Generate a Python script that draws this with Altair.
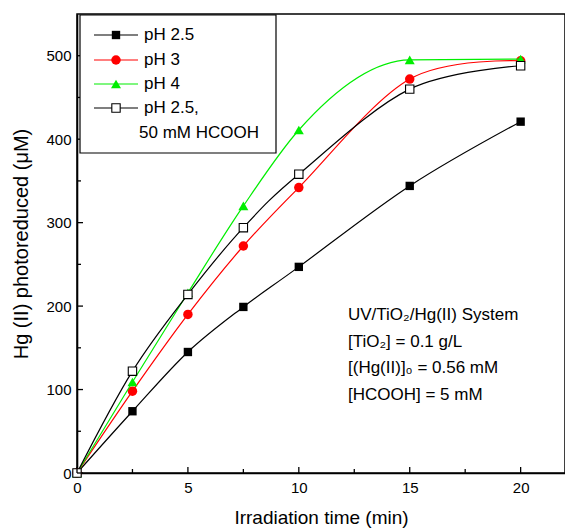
import altair as alt
import pandas as pd

# ---- data ----
time_min = [0, 2.5, 5, 7.5, 10, 15, 20]
ph25 = [0, 74, 145, 199, 247, 344, 421]
ph3 = [0, 98, 190, 272, 342, 472, 494]
ph4 = [0, 109, 216, 320, 411, 495, 496]
ph25_hcooh = [0, 122, 214, 294, 358, 460, 488]

series_names = ["pH 2.5", "pH 3", "pH 4", "pH 2.5,"]
legend_second_line = "50 mM HCOOH"
series_values = [ph25, ph3, ph4, ph25_hcooh]
series_colors = ["#000000", "#ff0000", "#00ee00", "#000000"]
series_fills = ["#000000", "#ff0000", "#00ee00", "#ffffff"]
series_shapes = ["square", "circle", "triangle-up", "square"]
series_sizes = [70, 90, 100, 70]
series_interp = ["cardinal", "cardinal", "monotone", "cardinal"]

x_ticks_major = [0, 5, 10, 15, 20]
x_ticks_minor = [2.5, 7.5, 12.5, 17.5]
y_ticks_major = [0, 100, 200, 300, 400, 500]
y_ticks_minor = [50, 150, 250, 350, 450]

annotation_lines = ["UV/TiO₂/Hg(II) System", "[TiO₂] = 0.1 g/L",
                    "[(Hg(II)]₀ = 0.56 mM", "[HCOOH] = 5 mM"]

FONT = "Liberation Sans"
W, H = 488, 459
XDOM = [0, 22]
YDOM = [0, 550]

xscale = alt.Scale(domain=XDOM, nice=False, zero=False)
yscale = alt.Scale(domain=YDOM, nice=False)
xaxis = alt.Axis(values=x_ticks_major, tickSize=0, grid=False, labelFlush=False,
                 title="Irradiation time (min)", labelPadding=7, titlePadding=13,
                 titleFontSize=19)
yaxis = alt.Axis(values=y_ticks_major, tickSize=0, grid=False, labelFlush=False,
                 title="Hg (II) photoreduced (μM)", labelPadding=6, titlePadding=14,
                 titleFontSize=20)

one = pd.DataFrame({"d": [0]})

layers = []

# data series
for name, vals, col, fill, shp, sz, ip in zip(series_names, series_values, series_colors,
                                              series_fills, series_shapes, series_sizes,
                                              series_interp):
    df = pd.DataFrame({"t": time_min, "v": vals})
    base = alt.Chart(df).encode(
        x=alt.X("t:Q", scale=xscale, axis=xaxis),
        y=alt.Y("v:Q", scale=yscale, axis=yaxis))
    layers.append(base.mark_line(color=col, strokeWidth=1.2, interpolate=ip))
    layers.append(base.mark_point(shape=shp, size=sz, filled=True, fill=fill,
                                  stroke="black" if fill == "#ffffff" else col,
                                  strokeWidth=1.1 if fill == "#ffffff" else 0, opacity=1))

# inward ticks
for vals, ln in [(x_ticks_major, 6), (x_ticks_minor, 4)]:
    layers.append(
        alt.Chart(pd.DataFrame({"t": vals})).mark_rule(color="black", strokeWidth=1.3).encode(
            x=alt.X("t:Q", scale=xscale, axis=xaxis),
            y=alt.value(H), y2=alt.value(H - ln)))
for vals, ln in [(y_ticks_major, 6), (y_ticks_minor, 4)]:
    layers.append(
        alt.Chart(pd.DataFrame({"v": vals})).mark_rule(color="black", strokeWidth=1.3).encode(
            y=alt.Y("v:Q", scale=yscale, axis=yaxis),
            x=alt.value(0), x2=alt.value(ln)))

# legend box
layers.append(alt.Chart(one).mark_rect(fill="white", stroke="black", strokeWidth=1.2).encode(
    x=alt.value(3), x2=alt.value(199), y=alt.value(1), y2=alt.value(139)))

row_y = [21, 46, 70, 94]
for i, (name, col, fill, shp, sz) in enumerate(zip(series_names, series_colors, series_fills,
                                                    series_shapes, series_sizes)):
    y = row_y[i]
    layers.append(alt.Chart(one).mark_rule(color=col, strokeWidth=1.2).encode(
        x=alt.value(17), x2=alt.value(61), y=alt.value(y)))
    layers.append(alt.Chart(one).mark_point(shape=shp, size=sz, filled=True, fill=fill,
                                            stroke="black" if fill == "#ffffff" else col,
                                            strokeWidth=1.1 if fill == "#ffffff" else 0,
                                            opacity=1).encode(
        x=alt.value(39), y=alt.value(y)))
    layers.append(alt.Chart(one).mark_text(text=name, font=FONT, fontSize=17, align="left",
                                           baseline="middle", color="black").encode(
        x=alt.value(67), y=alt.value(y)))
layers.append(alt.Chart(one).mark_text(text=legend_second_line, font=FONT, fontSize=17,
                                       align="left", baseline="middle", color="black").encode(
    x=alt.value(62), y=alt.value(119)))

# annotation
for i, line in enumerate(annotation_lines):
    layers.append(alt.Chart(one).mark_text(text=line, font=FONT, fontSize=17, align="left",
                                           baseline="middle", color="black").encode(
        x=alt.value(271), y=alt.value(301 + 26.5 * i)))

chart = alt.layer(*layers).properties(
    width=W, height=H,
    autosize=alt.AutoSizeParams(type="none"),
    padding={"left": 77, "top": 14, "right": 0, "bottom": 57},
).configure(font=FONT).configure_view(
    stroke="black", strokeWidth=1.5
).configure_axis(
    domainColor="black", domainWidth=1.6,
    labelFont=FONT, labelFontSize=15, labelColor="black",
    titleFont=FONT, titleFontWeight="normal", titleColor="black",
)

chart.save("out.html", embed_options={"renderer": "svg", "actions": False})
